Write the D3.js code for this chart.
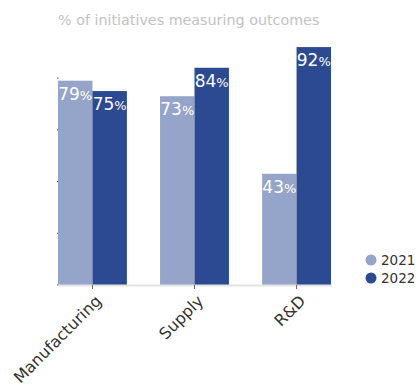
<!DOCTYPE html>
<meta charset="utf-8">
<style>
body { margin: 0; background: #fff; }
text { font-family: "DejaVu Sans", sans-serif; }
.title { fill: #c2c2c2; font-size: 14.3px; }
.bar-label { fill: #fff; font-size: 17px; }
.legend text { fill: #333; font-size: 13.5px; }
.x-axis text { fill: #333; font-size: 16px; }
</style>
<svg width="420" height="388"></svg>
<script src="https://d3js.org/d3.v7.min.js"></script>
<script>

var categories = ["Manufacturing", "Supply", "R&D"];
var years = ["2021", "2022"];
var values2021 = [79, 73, 43];
var values2022 = [75, 84, 92];
var yTicks = [0, 20, 40, 60, 80];

var colors = ["#95a5c9", "#2b4a91"];

var svg = d3.select("svg");
var baseline = 285;

var x = d3.scaleBand()
    .domain(categories)
    .range([58, 331])
    .paddingInner(0.325)
    .paddingOuter(0);

var xInner = d3.scaleBand()
    .domain(years)
    .range([0, x.bandwidth()]);

var y = d3.scaleLinear()
    .domain([0, 100])
    .range([baseline, baseline - 258.6]);

svg.append("text")
    .attr("class", "title")
    .attr("x", 58)
    .attr("y", 25)
    .text("% of initiatives measuring outcomes");

// tiny y ticks, no labels
svg.append("g")
    .selectAll("rect")
    .data(yTicks)
    .enter().append("rect")
      .attr("x", 57)
      .attr("y", function(d) { return y(d) - 0.5; })
      .attr("width", 1.5)
      .attr("height", 1)
      .attr("fill", "#555");

var rows = categories.map(function(c, i) {
  return { cat: c, vals: [values2021[i], values2022[i]] };
});

var groups = svg.append("g")
    .selectAll("g")
    .data(rows)
    .enter().append("g")
      .attr("transform", function(d) { return "translate(" + x(d.cat) + ",0)"; });

groups.selectAll("rect")
    .data(function(d) { return d.vals.map(function(v, i) { return { year: years[i], v: v, i: i }; }); })
    .enter().append("rect")
      .attr("x", function(d) { return xInner(d.year); })
      .attr("y", function(d) { return y(d.v); })
      .attr("width", xInner.bandwidth())
      .attr("height", function(d) { return baseline - y(d.v); })
      .attr("fill", function(d) { return colors[d.i]; });

var lbl = groups.selectAll("text")
    .data(function(d) { return d.vals.map(function(v, i) { return { year: years[i], v: v }; }); })
    .enter().append("text")
      .attr("class", "bar-label")
      .attr("x", function(d) { return xInner(d.year) + xInner.bandwidth() / 2; })
      .attr("y", function(d) { return y(d.v) + 19; })
      .attr("text-anchor", "middle");
lbl.append("tspan").text(function(d) { return d.v; });
lbl.append("tspan").style("font-size", "13px").text("%");

// x axis
var xAxis = svg.append("g")
    .attr("class", "x-axis")
    .attr("transform", "translate(0," + baseline + ")")
    .call(d3.axisBottom(x).tickSize(4).tickSizeOuter(0));
xAxis.select(".domain").attr("stroke", "#e3e3e3").attr("stroke-width", 2);
xAxis.selectAll(".tick line").attr("stroke", "#666");
xAxis.selectAll(".tick text")
    .attr("font-family", null)
    .attr("font-size", null)
    .attr("text-anchor", "end")
    .attr("x", -5)
    .attr("y", 19)
    .attr("dy", 0)
    .attr("transform", "rotate(-45)");

// legend
var legend = svg.append("g")
    .attr("class", "legend")
    .selectAll("g")
    .data(years)
    .enter().append("g")
      .attr("transform", function(d, i) { return "translate(371," + (260 + i * 18) + ")"; });
legend.append("circle")
    .attr("r", 5.5)
    .attr("fill", function(d, i) { return colors[i]; });
legend.append("text")
    .attr("x", 10)
    .attr("y", 5)
    .text(function(d) { return d; });

</script>
